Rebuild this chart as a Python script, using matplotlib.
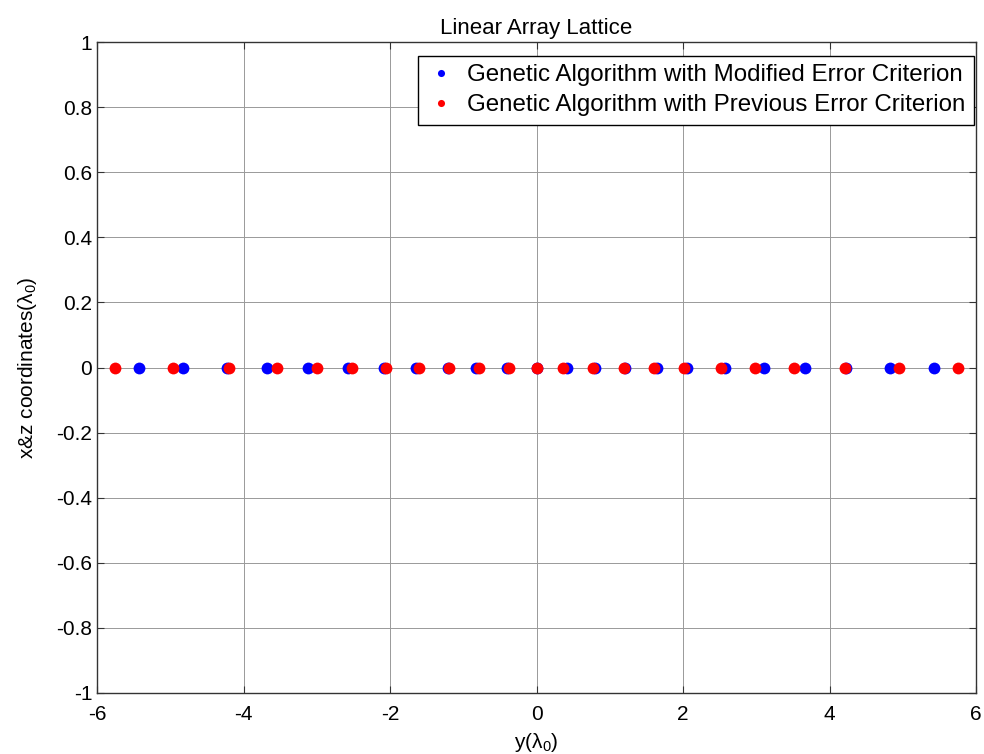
import numpy as np
import matplotlib
matplotlib.use("Agg")
from matplotlib import pyplot as plt

plt.rcParams['font.family'] = ['Liberation Sans', 'DejaVu Sans']
plt.rcParams['mathtext.default'] = 'regular'
plt.rcParams['axes.unicode_minus'] = False

# element positions along y (in wavelengths), both solutions lie on x=z=0
y_modified = [-5.43, -4.83, -4.23, -3.68, -3.12, -2.57, -2.08, -1.64, -1.21, -0.82, -0.40, 0.0,
              0.41, 0.80, 1.21, 1.64, 2.05, 2.57, 3.10, 3.67, 4.23, 4.82, 5.42]
y_previous = [-5.76, -4.96, -4.20, -3.54, -2.99, -2.52, -2.05, -1.61, -1.20, -0.79, -0.37, 0.0,
              0.36, 0.77, 1.195, 1.60, 2.02, 2.52, 2.98, 3.52, 4.21, 4.95, 5.76]
xz_modified = np.zeros(len(y_modified))
xz_previous = np.zeros(len(y_previous))

fig = plt.figure(figsize=(9.84, 7.54), dpi=100)
ax = fig.add_axes([97 / 984, 1 - 693 / 754, (976 - 97) / 984, (693 - 42) / 754])

ax.plot(y_modified, xz_modified, linestyle="None", marker="o", markersize=8.5,
        color="blue", markeredgewidth=0, label="Genetic Algorithm with Modified Error Criterion")
ax.plot(y_previous, xz_previous, linestyle="None", marker="o", markersize=8.5,
        color="red", markeredgewidth=0, label="Genetic Algorithm with Previous Error Criterion")

ax.set_xlim(-6, 6)
ax.set_ylim(-1, 1)
ax.set_xticks(np.arange(-6, 7, 2))
ax.set_yticks(np.round(np.arange(-1, 1.01, 0.2), 1))
ax.set_yticklabels(["-1", "-0.8", "-0.6", "-0.4", "-0.2", "0", "0.2", "0.4", "0.6", "0.8", "1"])
ax.grid(True, color="0.6", linewidth=0.7)
ax.set_axisbelow(True)
ax.tick_params(direction="in", top=True, right=True, length=5, labelsize=15, color="0.2")
ax.tick_params(axis="x", pad=9)
for s in ax.spines.values():
    s.set_color("0.2")
    s.set_linewidth(1.0)

ax.set_title("Linear Array Lattice", fontsize=16, pad=6)
ax.set_xlabel(r"y(λ$_0$)", fontsize=15, labelpad=5)
ax.set_ylabel(r"x&z coordinates(λ$_0$)", fontsize=15, labelpad=12)

leg = ax.legend(loc="upper right", bbox_to_anchor=(1 - 2 / 879, 1 - 14 / 651), borderaxespad=0,
                fontsize=17.4, markerscale=0.6, fancybox=False, framealpha=1,
                edgecolor="black", handlelength=1.2, handletextpad=0.5, borderpad=0.35,
                labelspacing=0.32)
leg.get_frame().set_linewidth(1.0)

fig.savefig("out.png", dpi=100)
